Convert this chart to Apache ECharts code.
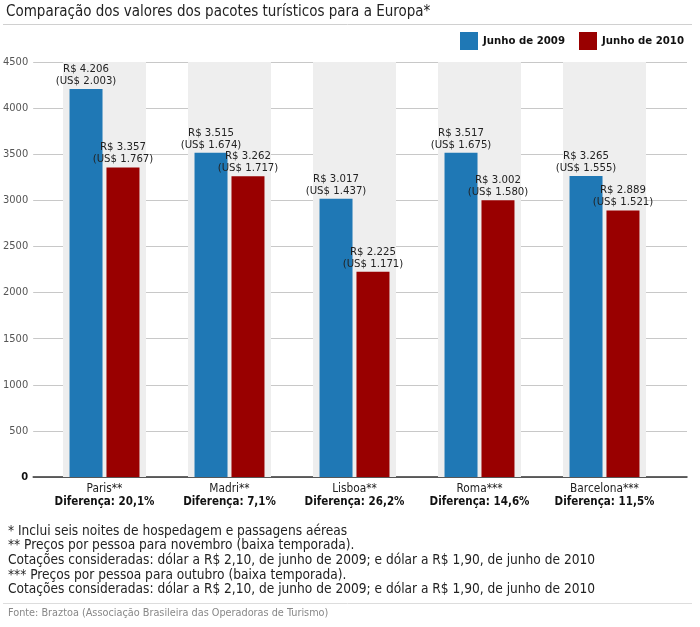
<!DOCTYPE html>
<html>
<head>
<meta charset="utf-8">
<script src="https://cdn.jsdelivr.net/npm/echarts@6/dist/echarts.min.js"></script>
<style>
  html, body { margin: 0; padding: 0; background: #fff; }
  #chart { width: 700px; height: 627px; }
</style>
</head>
<body>
<div id="chart"></div>
<script>
var cities = ['Paris**', 'Madri**', 'Lisboa**', 'Roma***', 'Barcelona***'];
var diffs = ['Diferença: 20,1%', 'Diferença: 7,1%', 'Diferença: 26,2%', 'Diferença: 14,6%', 'Diferença: 11,5%'];
var brl2009 = [4206, 3515, 3017, 3517, 3265];
var brl2010 = [3357, 3262, 2225, 3002, 2889];
var usd2009 = ['2.003', '1.674', '1.437', '1.675', '1.555'];
var usd2010 = ['1.767', '1.717', '1.171', '1.580', '1.521'];
var bandTop = [4500, 4500, 4500, 4500, 4500];
var notes = [
  '* Inclui seis noites de hospedagem e passagens aéreas',
  '** Preços por pessoa para novembro (baixa temporada).',
  'Cotações consideradas: dólar a R$ 2,10, de junho de 2009; e dólar a R$ 1,90, de junho de 2010',
  '*** Preços por pessoa para outubro (baixa temporada).',
  'Cotações consideradas: dólar a R$ 2,10, de junho de 2009; e dólar a R$ 1,90, de junho de 2010'
];
var fonte = 'Fonte: Braztoa (Associação Brasileira das Operadoras de Turismo)';

var FONT = '"DejaVu Sans Condensed", "DejaVu Sans", sans-serif';

function fmtReal(v) {
  var s = String(v);
  return 'R$ ' + s.slice(0, s.length - 3) + '.' + s.slice(s.length - 3);
}

var chart = echarts.init(document.getElementById('chart'));

var noteItems = notes.map(function (t, i) {
  return {
    type: 'text', left: 8, top: 524 + i * 14.7,
    style: { text: t, fill: '#222', font: '13.6px ' + FONT }
  };
});

var option = {
  animation: false,
  textStyle: { fontFamily: FONT },
  title: {
    text: 'Comparação dos valores dos pacotes turísticos para a Europa*',
    left: 6, top: 5, padding: 0,
    textStyle: { fontSize: 15, fontWeight: 'normal', color: '#222', fontFamily: FONT }
  },
  legend: {
    right: 16, top: 32, padding: 0,
    itemWidth: 18, itemHeight: 18, itemGap: 14,
    icon: 'rect',
    data: ['Junho de 2009', 'Junho de 2010'],
    textStyle: { fontSize: 11.3, fontWeight: 'bold', color: '#111', fontFamily: FONT }
  },
  grid: [
    { left: 42, right: 33, top: 62, bottom: 150 },
    { left: 31, right: 13, top: 62, bottom: 150 }
  ],
  xAxis: [
    {
      type: 'category', gridIndex: 0, data: cities,
      axisLine: { show: false }, axisTick: { show: false },
      axisLabel: {
        margin: 5, interval: 0,
        formatter: function (v, i) { return '{a|' + v + '}\n{b|' + diffs[i] + '}'; },
        rich: {
          a: { fontSize: 11.8, color: '#222', lineHeight: 13, fontFamily: FONT },
          b: { fontSize: 11.5, color: '#111', fontWeight: 'bold', lineHeight: 14, fontFamily: FONT }
        }
      }
    },
    { type: 'category', gridIndex: 0, data: cities, show: false },
    {
      type: 'value', gridIndex: 1, min: 0, max: 1,
      axisLine: { show: true, onZero: false, lineStyle: { color: '#333', width: 1.5 } },
      axisTick: { show: false }, axisLabel: { show: false }, splitLine: { show: false }
    }
  ],
  yAxis: [
    { type: 'value', gridIndex: 0, min: 0, max: 4500, show: false },
    {
      type: 'value', gridIndex: 1, min: 0, max: 4500, interval: 500,
      axisLine: { show: false }, axisTick: { show: false },
      axisLabel: {
        fontSize: 11, color: '#555', margin: 5, fontFamily: FONT,
        formatter: function (v) { return v === 0 ? '{z|0}' : String(v); },
        rich: { z: { fontSize: 11, color: '#111', fontWeight: 'bold', fontFamily: FONT } }
      },
      splitLine: { lineStyle: { color: '#c8c8c8' } }
    }
  ],
  series: [
    {
      type: 'bar', xAxisIndex: 1, yAxisIndex: 0, data: bandTop,
      barWidth: 83, silent: true,
      itemStyle: { color: '#eeeeee' }
    },
    {
      name: 'Junho de 2009', type: 'bar', xAxisIndex: 0, yAxisIndex: 0,
      data: brl2009, barWidth: 33, barGap: '12%',
      itemStyle: { color: '#1f78b5' },
      label: {
        show: true, position: 'top', distance: 2,
        fontSize: 11.3, lineHeight: 12, color: '#222', fontFamily: FONT,
        formatter: function (p) { return fmtReal(p.value) + '\n(US$ ' + usd2009[p.dataIndex] + ')'; }
      }
    },
    {
      name: 'Junho de 2010', type: 'bar', xAxisIndex: 0, yAxisIndex: 0,
      data: brl2010, barWidth: 33, barGap: '12%',
      itemStyle: { color: '#990000' },
      label: {
        show: true, position: 'top', distance: 2,
        fontSize: 11.3, lineHeight: 12, color: '#222', fontFamily: FONT,
        formatter: function (p) { return fmtReal(p.value) + '\n(US$ ' + usd2010[p.dataIndex] + ')'; }
      }
    }
  ],
  graphic: [
    { type: 'line', shape: { x1: 3, y1: 24.5, x2: 692, y2: 24.5 }, style: { stroke: '#d0d0d0', lineWidth: 1 } },
    { type: 'line', shape: { x1: 3, y1: 603.5, x2: 692, y2: 603.5 }, style: { stroke: '#dddddd', lineWidth: 1 } },
    { type: 'text', left: 8, top: 608, style: { text: fonte, fill: '#888', font: '10.8px ' + FONT } }
  ].concat(noteItems)
};

chart.setOption(option);
</script>
</body>
</html>
